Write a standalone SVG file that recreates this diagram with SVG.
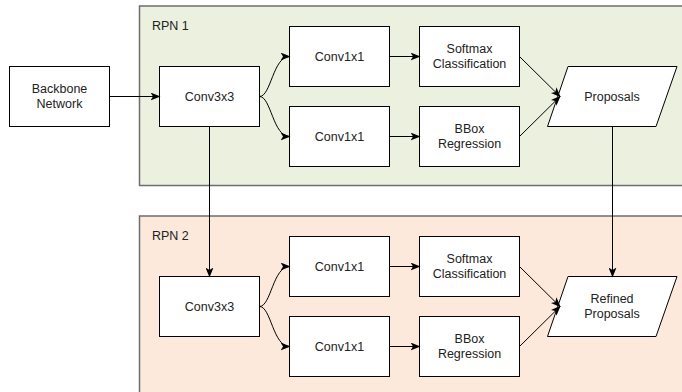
<svg xmlns="http://www.w3.org/2000/svg" width="682" height="392" viewBox="0 0 682 392">
<defs>
<style>
.cont{stroke:#6e6e6e;stroke-width:1.5}
.box{fill:#ffffff;stroke:#000000;stroke-width:1}
.t{font-family:"Liberation Sans",Arial,sans-serif;font-size:12.5px;fill:#222222;text-anchor:middle}
.lbl{font-family:"Liberation Sans",Arial,sans-serif;font-size:12.5px;fill:#222222}
.edge{fill:none;stroke:#000000;stroke-width:1;marker-end:url(#arr)}
</style>
<marker id="arr" viewBox="0 0 10 8" refX="9" refY="4" markerWidth="10" markerHeight="8" markerUnits="userSpaceOnUse" orient="auto">
<path d="M0,0 L10,4 L0,8 L2.5,4 Z" fill="#000000"/>
</marker>
</defs>
<rect width="682" height="392" fill="#ffffff"/>
<g id="rpn1">
<rect class="cont" x="139.5" y="6" width="560" height="179.5" fill="#ebf1de"/>
<text class="lbl" x="152" y="30">RPN 1</text>
</g>
<g id="rpn2">
<rect class="cont" x="139.5" y="216" width="560" height="200" fill="#fce9db"/>
<text class="lbl" x="152" y="240">RPN 2</text>
</g>
<g id="backbone">
<rect class="box" x="9.5" y="66.5" width="100" height="60"/>
<text class="t" x="59.5" y="93">Backbone</text>
<text class="t" x="59.5" y="107.5">Network</text>
</g>
<g id="conv3x3-1">
<rect class="box" x="159.5" y="66.5" width="100" height="60"/>
<text class="t" x="209.5" y="100.5">Conv3x3</text>
</g>
<g id="conv1x1-1a">
<rect class="box" x="289.5" y="26.5" width="100" height="60"/>
<text class="t" x="339.5" y="60.5">Conv1x1</text>
</g>
<g id="conv1x1-1b">
<rect class="box" x="289.5" y="106.5" width="100" height="60"/>
<text class="t" x="339.5" y="140.5">Conv1x1</text>
</g>
<g id="softmax-1">
<rect class="box" x="419.5" y="26.5" width="100" height="60"/>
<text class="t" x="469.5" y="53">Softmax</text>
<text class="t" x="469.5" y="67.5">Classification</text>
</g>
<g id="bbox-1">
<rect class="box" x="419.5" y="106.5" width="100" height="60"/>
<text class="t" x="469.5" y="133">BBox</text>
<text class="t" x="469.5" y="147.5">Regression</text>
</g>
<g id="proposals">
<polygon class="box" points="568,66.5 677,66.5 656,126.5 547.5,126.5"/>
<text class="t" x="612" y="100.5">Proposals</text>
</g>
<g id="conv3x3-2">
<rect class="box" x="159.5" y="276.5" width="100" height="60"/>
<text class="t" x="209.5" y="310.5">Conv3x3</text>
</g>
<g id="conv1x1-2a">
<rect class="box" x="289.5" y="236.5" width="100" height="60"/>
<text class="t" x="339.5" y="270.5">Conv1x1</text>
</g>
<g id="conv1x1-2b">
<rect class="box" x="289.5" y="316.5" width="100" height="60"/>
<text class="t" x="339.5" y="350.5">Conv1x1</text>
</g>
<g id="softmax-2">
<rect class="box" x="419.5" y="236.5" width="100" height="60"/>
<text class="t" x="469.5" y="263">Softmax</text>
<text class="t" x="469.5" y="277.5">Classification</text>
</g>
<g id="bbox-2">
<rect class="box" x="419.5" y="316.5" width="100" height="60"/>
<text class="t" x="469.5" y="343">BBox</text>
<text class="t" x="469.5" y="357.5">Regression</text>
</g>
<g id="refined">
<polygon class="box" points="568,276.5 677,276.5 656,336.5 547.5,336.5"/>
<text class="t" x="612" y="303">Refined</text>
<text class="t" x="612" y="317.5">Proposals</text>
</g>
<g id="connectors">
<path class="edge" d="M109.5,96.5 L159.5,96.5"/>
<path class="edge" d="M259.5,96.5 C271,96.5 273,56.5 289.5,56.5"/>
<path class="edge" d="M259.5,96.5 C271,96.5 273,136.5 289.5,136.5"/>
<path class="edge" d="M389.5,56.5 L419.5,56.5"/>
<path class="edge" d="M389.5,136.5 L419.5,136.5"/>
<path class="edge" d="M519.5,56.5 L560,96.5"/>
<path class="edge" d="M519.5,136.5 L560,96.5"/>
<path class="edge" d="M209.5,126.5 L209.5,276.5"/>
<path class="edge" d="M612.5,126.5 L612.5,276.5"/>
<path class="edge" d="M259.5,306.5 C271,306.5 273,266.5 289.5,266.5"/>
<path class="edge" d="M259.5,306.5 C271,306.5 273,346.5 289.5,346.5"/>
<path class="edge" d="M389.5,266.5 L419.5,266.5"/>
<path class="edge" d="M389.5,346.5 L419.5,346.5"/>
<path class="edge" d="M519.5,266.5 L560,306.5"/>
<path class="edge" d="M519.5,346.5 L560,306.5"/>
</g>
</svg>
